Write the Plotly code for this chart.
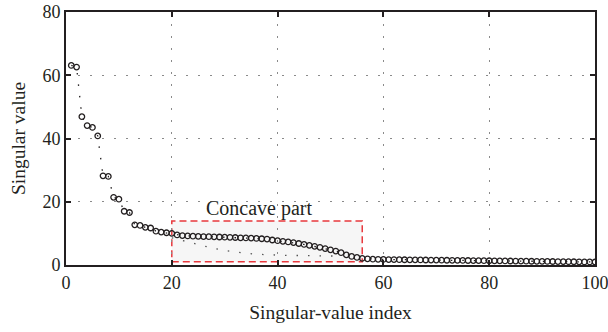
import plotly.graph_objects as go

idx = list(range(1, 101))
singular_values = [
    63.1, 62.6, 46.9, 44.1, 43.5, 40.8, 28.2, 28.0, 21.4, 20.8,
    17.0, 16.6, 12.7, 12.5, 11.9, 11.7, 10.7, 10.4, 10.2, 10.0,
    9.5, 9.3, 9.2, 9.1, 9.05, 9.0, 8.95, 8.9, 8.85, 8.8,
    8.75, 8.7, 8.6, 8.55, 8.5, 8.4, 8.3, 8.2, 7.9, 7.7,
    7.5, 7.3, 7.1, 6.8, 6.5, 6.2, 5.9, 5.6, 5.2, 4.8,
    4.4, 3.9, 3.2, 2.7, 2.4, 2.1, 1.95, 1.85, 1.8, 1.76,
    1.73, 1.71, 1.68, 1.66, 1.65, 1.62, 1.6, 1.58, 1.57, 1.54,
    1.52, 1.5, 1.49, 1.46, 1.44, 1.43, 1.4, 1.38, 1.37, 1.34,
    1.32, 1.31, 1.28, 1.26, 1.25, 1.22, 1.2, 1.19, 1.16, 1.14,
    1.13, 1.1, 1.08, 1.07, 1.04, 1.02, 1.01, 0.98, 0.96, 0.95,
]
chord_x = [20, 22, 24, 26, 28, 30, 32, 34, 36, 38, 40, 42, 44, 46, 48, 50, 52]
chord_y = [8.6, 7.7, 6.8, 6.0, 5.2, 4.6, 4.1, 3.7, 3.4, 3.2, 3.1, 3.0, 3.0, 2.9, 2.9, 2.8, 2.8]
box_x = [20, 56]
box_y = [1.0, 13.9]
x_ticks = [0, 20, 40, 60, 80, 100]
y_ticks = [0, 20, 40, 60, 80]

FONT = "Liberation Serif, serif"
INK = "#231f20"

fig = go.Figure()
fig.add_trace(go.Scatter(
    x=chord_x, y=chord_y, mode="lines",
    line=dict(color="#555", width=1.3, dash="1.5px,10px"),
    hoverinfo="skip", showlegend=False))
fig.add_trace(go.Scatter(
    x=idx, y=singular_values, mode="lines+markers",
    line=dict(color=INK, width=1.3, dash="1.5px,10px"),
    marker=dict(symbol="circle-open", size=5.5, color=INK, line=dict(width=1.3, color=INK)),
    showlegend=False))

fig.add_shape(type="rect", x0=box_x[0], x1=box_x[1], y0=box_y[0], y1=box_y[1],
              xref="x", yref="y", layer="below",
              fillcolor="rgba(238,238,238,0.55)",
              line=dict(color="#e8383d", width=1.5, dash="7px,4px"))

fig.add_annotation(x=36.5, y=18.0, xref="x", yref="y", text="Concave part",
                   showarrow=False, font=dict(family=FONT, size=20, color=INK))

axis_common = dict(
    showline=True, linecolor=INK, linewidth=2, mirror="ticks",
    ticks="inside", ticklen=5, tickwidth=2, tickcolor=INK,
    showgrid=True, gridcolor="#8a8a8a", gridwidth=1.3, griddash="1.5px,10.5px",
    zeroline=False, automargin=False, ticklabeloverflow="allow",
    tickfont=dict(family=FONT, size=18, color=INK),
)
fig.update_xaxes(range=[0, 100], tickvals=x_ticks,
                 title=dict(text="Singular-value index", font=dict(family=FONT, size=19.5, color=INK), standoff=14),
                 **axis_common)
fig.update_yaxes(range=[0, 80], tickvals=y_ticks,
                 title=dict(text="Singular value", font=dict(family=FONT, size=19.5, color=INK), standoff=12),
                 **axis_common)

fig.update_layout(
    width=608, height=332,
    margin=dict(l=66, r=13, t=12, b=67),
    plot_bgcolor="white", paper_bgcolor="white",
    font=dict(family=FONT, color=INK),
)
fig.write_html("out.html")
